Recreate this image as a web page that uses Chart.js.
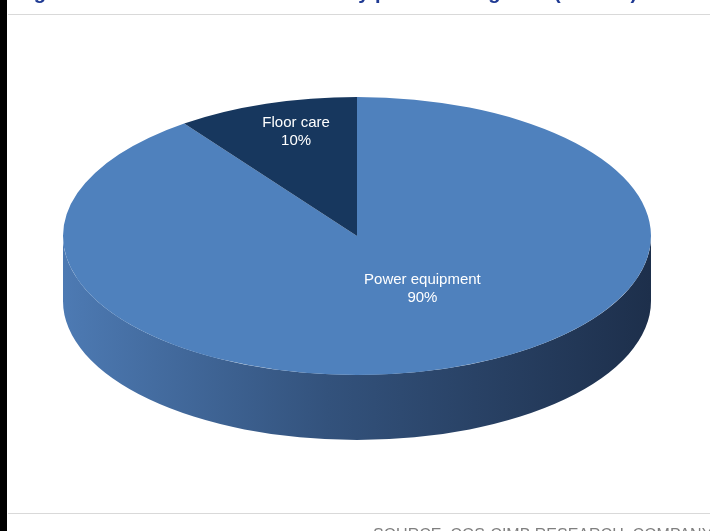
<!DOCTYPE html>
<html lang="en">
<head>
<meta charset="UTF-8">
<title>Revenue breakdown by product segment</title>
<script src="https://cdn.jsdelivr.net/npm/chart.js"></script>
<style>
    body { margin: 0; background: #fff; overflow: hidden; }
    .page { position: relative; width: 710px; height: 531px; overflow: hidden; font-family: Arial, "Liberation Sans", sans-serif; }
    .bar { position: absolute; left: 0; top: 0; width: 7px; height: 531px; background: #000; }
    .title { position: absolute; left: 16px; top: -18px; font-weight: bold; font-size: 20px; line-height: 20px; color: #1f3a93; white-space: nowrap; }
    .rule { position: absolute; left: 8px; right: 0; height: 1px; background: #d9d9d9; }
    .source { position: absolute; left: 373px; top: 527px; font-size: 16px; line-height: 16px; color: #7f7f7f; white-space: nowrap; }
    canvas { position: absolute; left: 0; top: 0; }
</style>
</head>
<body>
<div class="page">
    <canvas id="pie" width="710" height="531"></canvas>
    <div class="bar"></div>
    <div class="title">Figure 10: TTI revenue breakdown by products segment (FY2017)</div>
    <div class="rule" style="top:14px"></div>
    <div class="rule" style="top:513px"></div>
    <div class="source">SOURCE: CGS-CIMB RESEARCH, COMPANY</div>
</div>

<script>
    // data
    const segments = ['Power equipment', 'Floor care'];
    const shares = [90, 10];
    const colours = ['#4f81bd', '#17375e'];

    // where the tilted pie sits on the page
    const CX = 357, CY = 236, RX = 294, RY = 139, DEPTH = 65;

    // label anchors as fractions of the radius along each slice's middle
    const labelFrac = [[0.72, 0.40], [0.67, 0.79]];

    const pie3d = {
        id: 'pie3d',
        beforeDatasetsDraw(chart) {
            const ctx = chart.ctx;
            const arc = chart.getDatasetMeta(0).data[0];
            const r = arc.outerRadius;

            // side wall of the disc
            ctx.save();
            const g = ctx.createLinearGradient(CX - RX, 0, CX + RX, 0);
            g.addColorStop(0, '#4d7ab3');
            g.addColorStop(0.45, '#33527c');
            g.addColorStop(1, '#1d2f4b');
            ctx.fillStyle = g;
            ctx.beginPath();
            ctx.ellipse(CX, CY, RX, RY, 0, 0, Math.PI);
            ctx.lineTo(CX - RX, CY + DEPTH);
            ctx.ellipse(CX, CY + DEPTH, RX, RY, 0, Math.PI, 0, true);
            ctx.closePath();
            ctx.fill();
            ctx.restore();

            // squash the round pie into the top face
            ctx.save();
            ctx.translate(CX, CY);
            ctx.scale(RX / r, RY / r);
            ctx.translate(-arc.x, -arc.y);
        },
        afterDatasetsDraw(chart) {
            const ctx = chart.ctx;
            ctx.restore();

            ctx.save();
            ctx.fillStyle = '#ffffff';
            ctx.font = '15px Arial, "Liberation Sans", sans-serif';
            ctx.textAlign = 'center';
            ctx.textBaseline = 'middle';
            chart.getDatasetMeta(0).data.forEach((a, i) => {
                const mid = (a.startAngle + a.endAngle) / 2;
                const x = CX + RX * labelFrac[i][0] * Math.cos(mid);
                const y = CY + RY * labelFrac[i][1] * Math.sin(mid);
                ctx.fillText(segments[i], x, y - 9);
                ctx.fillText(shares[i] + '%', x, y + 9);
            });
            ctx.restore();
        }
    };

    new Chart(document.getElementById('pie'), {
        type: 'pie',
        data: {
            labels: segments,
            datasets: [{
                data: shares,
                backgroundColor: colours,
                borderWidth: 0,
                clip: false
            }]
        },
        options: {
            responsive: false,
            animation: false,
            rotation: 0,
            layout: { padding: 0 },
            plugins: {
                legend: { display: false },
                tooltip: { enabled: false }
            }
        },
        plugins: [pie3d]
    });
</script>
</body>
</html>
